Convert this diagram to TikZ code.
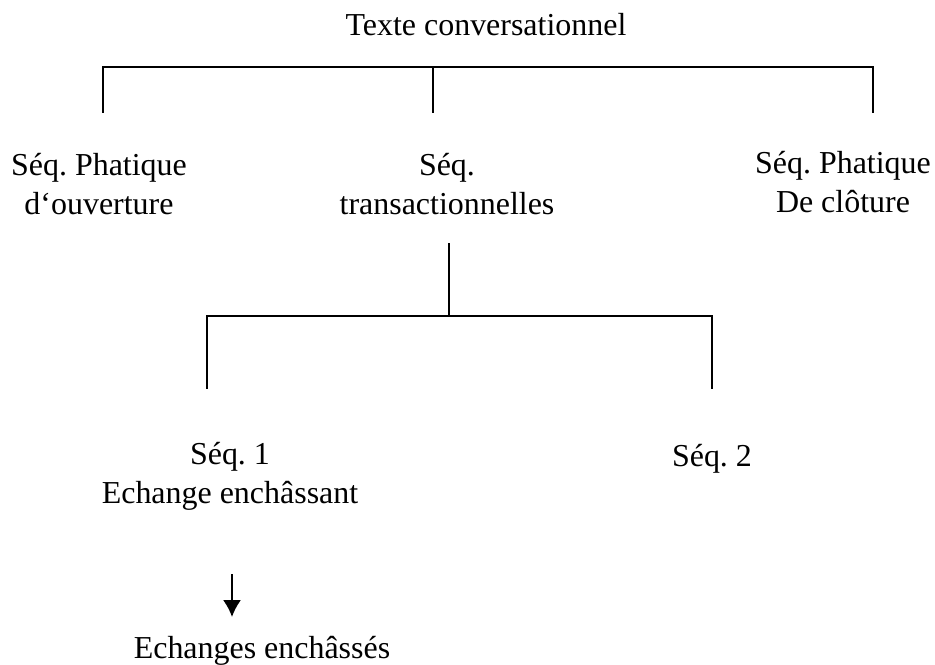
\documentclass[tikz,border=0pt]{standalone}
\usepackage{fontspec}
\setmainfont{Liberation Serif}
\usetikzlibrary{arrows.meta}
\frenchspacing
\begin{document}
\begin{tikzpicture}[x=0.4444pt,y=-0.4444pt,
  lbl/.style={inner sep=0pt,align=center,anchor=base,font=\fontsize{14.2}{16.9}\selectfont\frenchspacing},
  conn/.style={line width=0.9pt,line cap=rect},
  arr/.style={line width=0.9pt,-{Latex[length=7.5pt,width=8pt]}}]
\useasboundingbox (0,0) rectangle (935,664);
% base anchor = baseline of the last line
\node[lbl] (root) at (486,35) {Texte conversationnel};
\node[lbl] (ouv) at (99,214) {Séq. Phatique\\d‘ouverture};
\node[lbl] (trans) at (447,214) {Séq.\\transactionnelles};
\node[lbl] (clot) at (843,212) {Séq. Phatique\\De clôture};
\node[lbl] (s1) at (230,503) {Séq. 1\\Echange enchâssant};
\node[lbl] (s2) at (712,466) {Séq. 2};
\node[lbl] (ench) at (262,658) {Echanges enchâssés};
% top bracket
\coordinate (tl) at (103,67);
\coordinate (tm) at (433,67);
\coordinate (tr) at (873,67);
\coordinate (tlb) at (103,112);
\coordinate (tmb) at (433,112);
\coordinate (trb) at (873,112);
\draw[conn] (tlb) -- (tl) -- (tr) -- (trb);
\draw[conn] (tm) -- (tmb);
% second bracket
\coordinate (mt) at (449,244);
\coordinate (mm) at (449,316);
\coordinate (ml) at (207,316);
\coordinate (mr) at (712,316);
\coordinate (mlb) at (207,388);
\coordinate (mrb) at (712,388);
\draw[conn] (mt) -- (mm);
\draw[conn] (mlb) -- (ml) -- (mr) -- (mrb);
% arrow
\coordinate (at) at (232,574);
\coordinate (ab) at (232,617);
\draw[arr] (at) -- (ab);
\end{tikzpicture}
\end{document}
